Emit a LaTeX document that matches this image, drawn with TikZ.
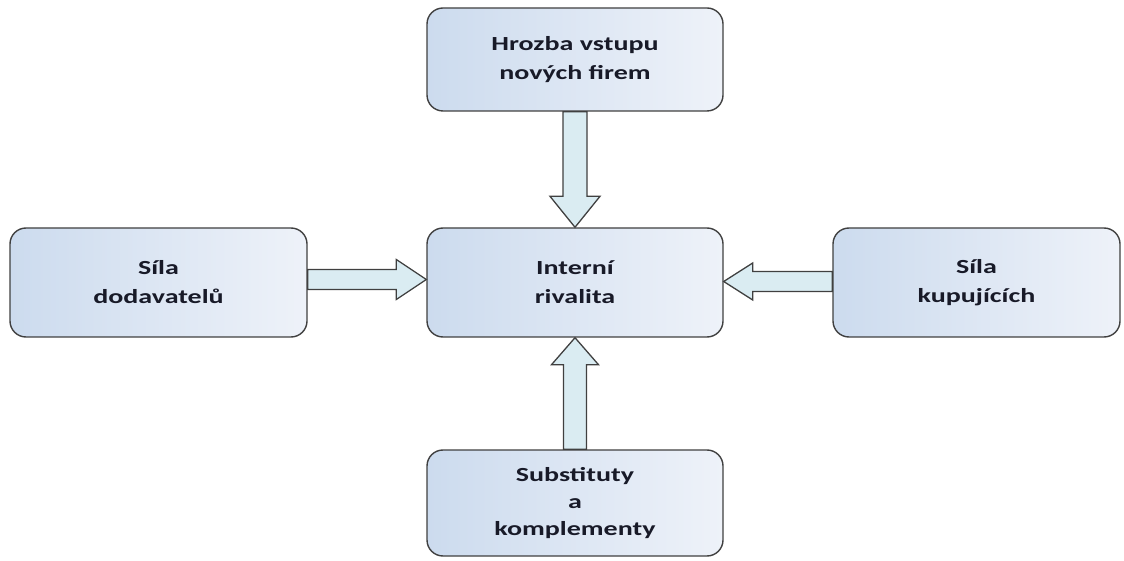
\documentclass[tikz,border=0pt]{standalone}
\usepackage{fontspec}
\setmainfont{Carlito}[FakeStretch=1.4]
\usetikzlibrary{calc}
\definecolor{boxl}{RGB}{204,219,238}
\definecolor{boxr}{RGB}{238,242,249}
\definecolor{edge}{RGB}{64,64,64}
\definecolor{txt}{RGB}{24,26,40}
\definecolor{arrfill}{RGB}{218,236,242}
\begin{document}
\begin{tikzpicture}[x=1pt,y=1pt,
  box/.style={draw=edge, line width=1.4pt, rounded corners=16pt,
    left color=boxl, right color=boxr, align=center,
    font=\fontsize{20}{29}\selectfont\bfseries, text=txt,
    inner sep=0pt},
  arr/.style={draw=edge, line width=1.3pt, fill=arrfill, line join=miter}]
\useasboundingbox (0,0) rectangle (1124,560);
\node[box, minimum width=296pt, minimum height=103pt] (top) at (575,500.5) {Hrozba vstupu\\nových firem};
\node[box, minimum width=296pt, minimum height=109pt] (ctr) at (575,277.5) {Interní\\rivalita};
\node[box, minimum width=297pt, minimum height=109pt] (lft) at (158.5,277.5) {Síla\\dodavatelů};
\node[box, minimum width=287pt, minimum height=109pt] (rgt) at (976.5,277.5) {Síla\\kupujících};
\node[box, minimum width=296pt, minimum height=106pt, font=\fontsize{20}{27}\selectfont\bfseries] (bot) at (575,57) {Substituty\\a\\komplementy};
% top arrow
\draw[arr] ($(top.south)+(-12,0)$) -- ($(ctr.north)+(-12,31)$) -- ($(ctr.north)+(-25,31)$)
  -- (ctr.north) -- ($(ctr.north)+(25,31)$) -- ($(ctr.north)+(12,31)$) -- ($(top.south)+(12,0)$) -- cycle;
% bottom arrow
\draw[arr] ($(bot.north)+(-11.5,0)$) -- ($(ctr.south)+(-11.5,-27)$) -- ($(ctr.south)+(-23.5,-27)$)
  -- (ctr.south) -- ($(ctr.south)+(23.5,-27)$) -- ($(ctr.south)+(11.5,-27)$) -- ($(bot.north)+(11.5,0)$) -- cycle;
% left arrow
\draw[arr] ($(lft.east)+(0,13)$) -- ($(ctr.west)+(-30,13)$) -- ($(ctr.west)+(-30,23)$)
  -- ($(ctr.west)+(0,3)$) -- ($(ctr.west)+(-30,-17)$) -- ($(ctr.west)+(-30,-7)$) -- ($(lft.east)+(0,-7)$) -- cycle;
% right arrow
\draw[arr] ($(rgt.west)+(0,11)$) -- ($(ctr.east)+(29,11)$) -- ($(ctr.east)+(29,19.5)$)
  -- ($(ctr.east)+(0,1)$) -- ($(ctr.east)+(29,-17.5)$) -- ($(ctr.east)+(29,-9)$) -- ($(rgt.west)+(0,-9)$) -- cycle;
\end{tikzpicture}
\end{document}
